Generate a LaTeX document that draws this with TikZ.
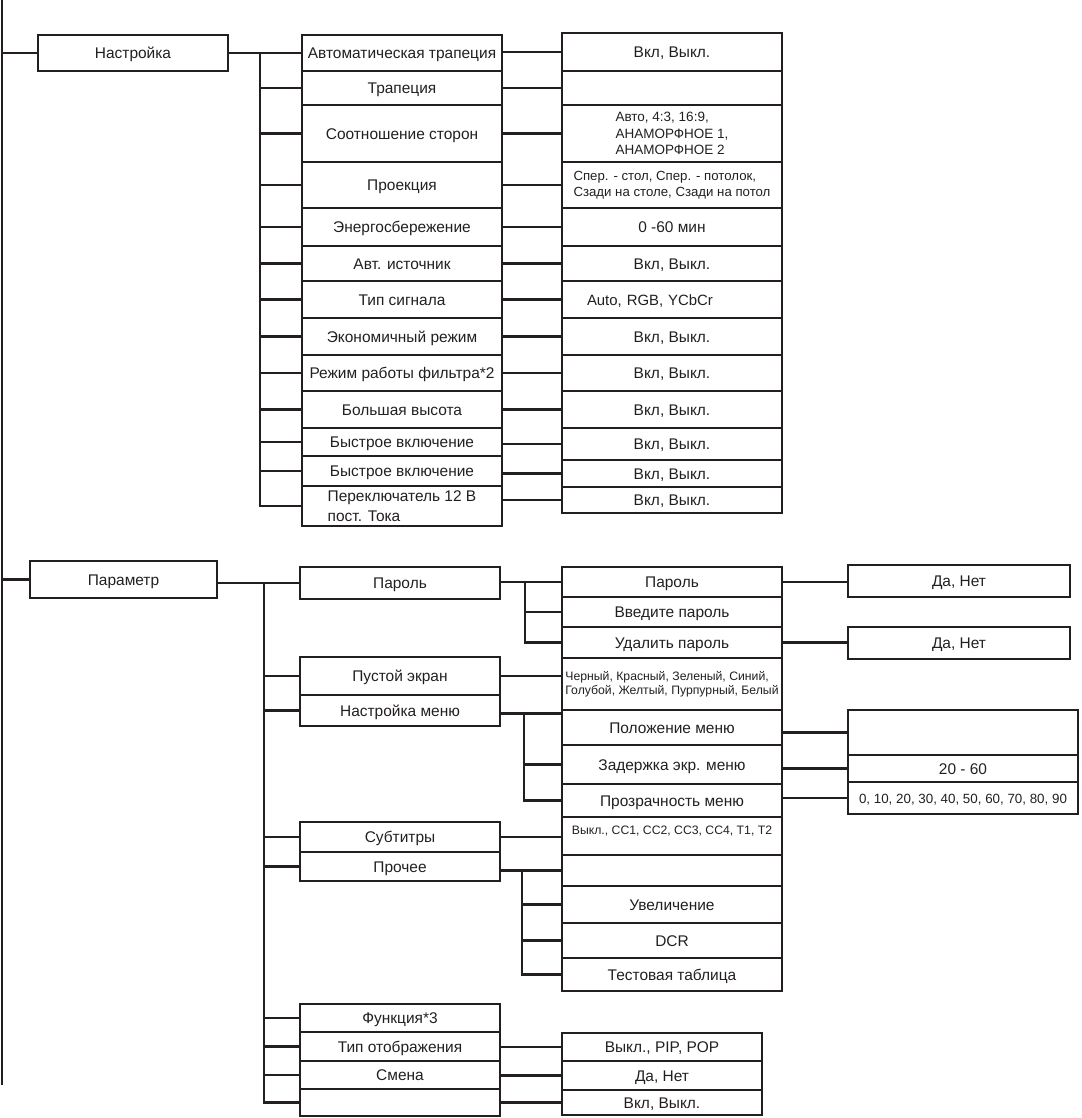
\documentclass[tikz,border=0pt]{standalone}
\usepackage{fontspec}
\setmainfont{Liberation Sans}
\usepackage{tikz}
\usetikzlibrary{positioning}
\usetikzlibrary{calc}
\definecolor{ink}{HTML}{231F20}

\tikzset{
	box/.style={draw=ink, line width=2pt, inner sep=0pt, outer sep=0pt, text=ink, align=center},
	item/.style={box, font=\fontsize{11}{13}\selectfont, text height=8pt, text depth=0pt},
	small/.style={box, font=\fontsize{9.6}{11.7}\selectfont, align=left},
	wire/.style={draw=ink, line width=2pt},
	root/.style={draw=ink, line width=1.5pt},
	setw/.style={minimum width=50mm},
	valw/.style={minimum width=55mm},
}

\begin{document}
\begin{tikzpicture}[x=0.25mm, y=-0.25mm]
		\useasboundingbox (0,0) rectangle (1081,1118);
		%coordinates
		\coordinate (rootT) at (2,0);
		\coordinate (rootB) at (2,1085);
		\coordinate (spS) at (260,0);
		\coordinate (spP) at (264,0);
		\coordinate (spK) at (525,0);
		\coordinate (spM) at (524,0);
		\coordinate (spO) at (522,0);
		
		%nodes
		\node[item, minimum width=47.5mm, minimum height=9mm, anchor=north west] (nast) at (38,35) {Настройка};
		\node[item, minimum width=46.75mm, minimum height=9.25mm, anchor=north west] (param) at (30,561) {Параметр};
		
		% Настройка
		\node[item, setw, minimum height=9mm, anchor=north west] (s1) at (302,35) {Автоматическая трапеция};
		\node[item, setw, minimum height=8.5mm, below=0pt of s1] (s2) {Трапеция};
		\node[item, setw, minimum height=14.25mm, below=0pt of s2] (s3) {Соотношение сторон};
		\node[item, setw, minimum height=11.5mm, below=0pt of s3] (s4) {Проекция};
		\node[item, setw, minimum height=9.5mm, below=0pt of s4] (s5) {Энергосбережение};
		\node[item, setw, minimum height=8.75mm, below=0pt of s5] (s6) {Авт. источник};
		\node[item, setw, minimum height=9.25mm, below=0pt of s6] (s7) {Тип сигнала};
		\node[item, setw, minimum height=9.25mm, below=0pt of s7] (s8) {Экономичный режим};
		\node[item, setw, minimum height=9mm, below=0pt of s8] (s9) {Режим работы фильтра*2};
		\node[item, setw, minimum height=9.25mm, below=0pt of s9] (s10) {Большая высота};
		\node[item, setw, minimum height=7mm, below=0pt of s10] (s11) {Быстрое включение};
		\node[item, setw, minimum height=7.5mm, below=0pt of s11] (s12) {Быстрое включение};
		\node[box, setw, minimum height=10mm, below=0pt of s12, align=left, font=\fontsize{11}{14}\selectfont] (s13) {Переключатель 12 В\\пост. Тока};
		
		\node[item, valw, minimum height=9.5mm, anchor=north west] (v1) at (562,33) {Вкл, Выкл.};
		\node[item, valw, minimum height=8.5mm, below=0pt of v1] (v2) {};
		\node[small, valw, minimum height=14.25mm, below=0pt of v2] (v3) {Авто, 4:3, 16:9,\\АНАМОРФНОЕ 1,\\АНАМОРФНОЕ 2};
		\node[small, valw, minimum height=11.5mm, below=0pt of v3, font=\fontsize{9.4}{11.4}\selectfont] (v4) {Спер. - стол, Спер. - потолок,\\Сзади на столе, Сзади на потол};
		\node[item, valw, minimum height=9.5mm, below=0pt of v4] (v5) {0 -60 мин};
		\node[item, valw, minimum height=8.75mm, below=0pt of v5] (v6) {Вкл, Выкл.};
		\node[item, valw, minimum height=9.25mm, below=0pt of v6, text width=42.5mm, inner xsep=6.25mm, align=left, font=\fontsize{10.6}{13}\selectfont] (v7) {Auto, RGB, YCbCr};
		\node[item, valw, minimum height=9.25mm, below=0pt of v7] (v8) {Вкл, Выкл.};
		\node[item, valw, minimum height=9mm, below=0pt of v8] (v9) {Вкл, Выкл.};
		\node[item, valw, minimum height=9.25mm, below=0pt of v9] (v10) {Вкл, Выкл.};
		\node[item, valw, minimum height=8mm, below=0pt of v10] (v11) {Вкл, Выкл.};
		\node[item, valw, minimum height=6.75mm, below=0pt of v11] (v12) {Вкл, Выкл.};
		\node[item, valw, minimum height=6.5mm, below=0pt of v12] (v13) {Вкл, Выкл.};
		
		% Параметр
		\node[item, setw, minimum height=8mm, anchor=north west] (p1) at (300,567) {Пароль};
		\node[item, setw, minimum height=9.5mm, anchor=north west] (p2) at (300,657) {Пустой экран};
		\node[item, setw, minimum height=7.75mm, below=0pt of p2] (p3) {Настройка меню};
		\node[item, setw, minimum height=7.5mm, anchor=north west] (p4) at (300,822) {Субтитры};
		\node[item, setw, minimum height=7.25mm, below=0pt of p4] (p5) {Прочее};
		\node[item, setw, minimum height=7mm, anchor=north west] (p6) at (300,1004) {Функция*3};
		\node[item, setw, minimum height=7.25mm, below=0pt of p6] (p7) {Тип отображения};
		\node[item, setw, minimum height=7mm, below=0pt of p7] (p8) {Смена};
		\node[item, setw, minimum height=6.75mm, below=0pt of p8] (p9) {};
		
		\node[item, valw, minimum height=7.5mm, anchor=north west] (m1) at (562,567) {Пароль};
		\node[item, valw, minimum height=7.5mm, below=0pt of m1] (m2) {Введите пароль};
		\node[item, valw, minimum height=7.75mm, below=0pt of m2] (m3) {Удалить пароль};
		\node[small, valw, minimum height=13mm, below=0pt of m3, font=\fontsize{8.7}{10}\selectfont] (m4) {Черный, Красный, Зеленый, Синий,\\Голубой, Желтый, Пурпурный, Белый};
		\node[item, valw, minimum height=8.75mm, below=0pt of m4] (m5) {Положение меню};
		\node[item, valw, minimum height=9.75mm, below=0pt of m5] (m6) {Задержка экр. меню};
		\node[item, valw, minimum height=8.25mm, below=0pt of m6] (m7) {Прозрачность меню};
		\node[item, valw, minimum height=9.5mm, below=0pt of m7, font=\fontsize{8.7}{10}\selectfont, text height=2mm, text depth=3mm] (m8) {Выкл., CC1, CC2, CC3, CC4, T1, T2};
		\node[item, valw, minimum height=7.75mm, below=0pt of m8] (m9) {};
		\node[item, valw, minimum height=9.25mm, below=0pt of m9] (m10) {Увеличение};
		\node[item, valw, minimum height=8.75mm, below=0pt of m10] (m11) {DCR};
		\node[item, valw, minimum height=8.25mm, below=0pt of m11] (m12) {Тестовая таблица};
		
		\node[item, minimum width=55.5mm, minimum height=8mm, anchor=north west] (r1) at (848,565) {Да, Нет};
		\node[item, minimum width=55.5mm, minimum height=8mm, anchor=north west] (r2) at (848,627) {Да, Нет};
		\node[item, minimum width=57.5mm, minimum height=11.25mm, anchor=north west] (r3) at (848,710) {};
		\node[item, minimum width=57.5mm, minimum height=6.75mm, below=0pt of r3] (r4) {20 - 60};
		\node[item, minimum width=57.5mm, minimum height=8mm, below=0pt of r4, font=\fontsize{9.5}{11}\selectfont] (r5) {0, 10, 20, 30, 40, 50, 60, 70, 80, 90};
		
		\node[item, setw, minimum height=7mm, anchor=north west] (q1) at (562,1033) {Выкл., PIP, POP};
		\node[item, setw, minimum height=7.25mm, below=0pt of q1] (q2) {Да, Нет};
		\node[item, setw, minimum height=6.25mm, below=0pt of q2] (q3) {Вкл, Выкл.};
		
		%connectors
		\draw[root] (rootT) -- (rootB);
		\draw[wire] (rootT |- nast.west) -- (nast.west);
		\draw[wire] (rootT |- param.west) -- (param.west);
		
		\draw[wire] (nast.east) -- (nast.east -| s1.west);
		\draw[wire] (spS |- s1.west) |- (s13.west);
		\foreach \i in {2,...,12} \draw[wire] (spS |- s\i.west) -- (s\i.west);
		\foreach \i in {1,...,13} \draw[wire] (s\i.east |- v\i.west) -- (v\i.west);
		
		\draw[wire] (param.east |- p1.west) -- (p1.west);
		\draw[wire] (spP |- p1.west) |- (p9.west);
		\foreach \i in {2,...,8} \draw[wire] (spP |- p\i.west) -- (p\i.west);
		
		\draw[wire] (p1.east |- m1.west) -- (m1.west);
		\draw[wire] (spK |- m1.west) |- (m3.west);
		\draw[wire] (spK |- m2.west) -- (m2.west);
		\draw[wire] (p2.east) -- (p2.east -| m4.west);
		\draw[wire] ($(p3.east)+(0,3)$) -- ($(p3.east -| m5.west)+(0,3)$);
		\draw[wire] ($(spM |- p3.east)+(0,3)$) |- (m7.west);
		\draw[wire] (spM |- m6.west) -- (m6.west);
		\draw[wire] (p4.east) -- (p4.east -| m8.west);
		\draw[wire] (p5.east |- m9.west) -- (m9.west);
		\draw[wire] (spO |- m9.west) |- (m12.west);
		\foreach \i in {10,11} \draw[wire] (spO |- m\i.west) -- (m\i.west);
		
		\draw[wire] (m1.east) -- (m1.east -| r1.west);
		\draw[wire] (m3.east) -- (m3.east -| r2.west);
		\foreach \i/\j in {5/3,6/4,7/5} \draw[wire] (m\i.east |- r\j.west) -- (r\j.west);
		\foreach \i/\j in {7/1,8/2,9/3} \draw[wire] (p\i.east |- q\j.west) -- (q\j.west);
\end{tikzpicture}
\end{document}
